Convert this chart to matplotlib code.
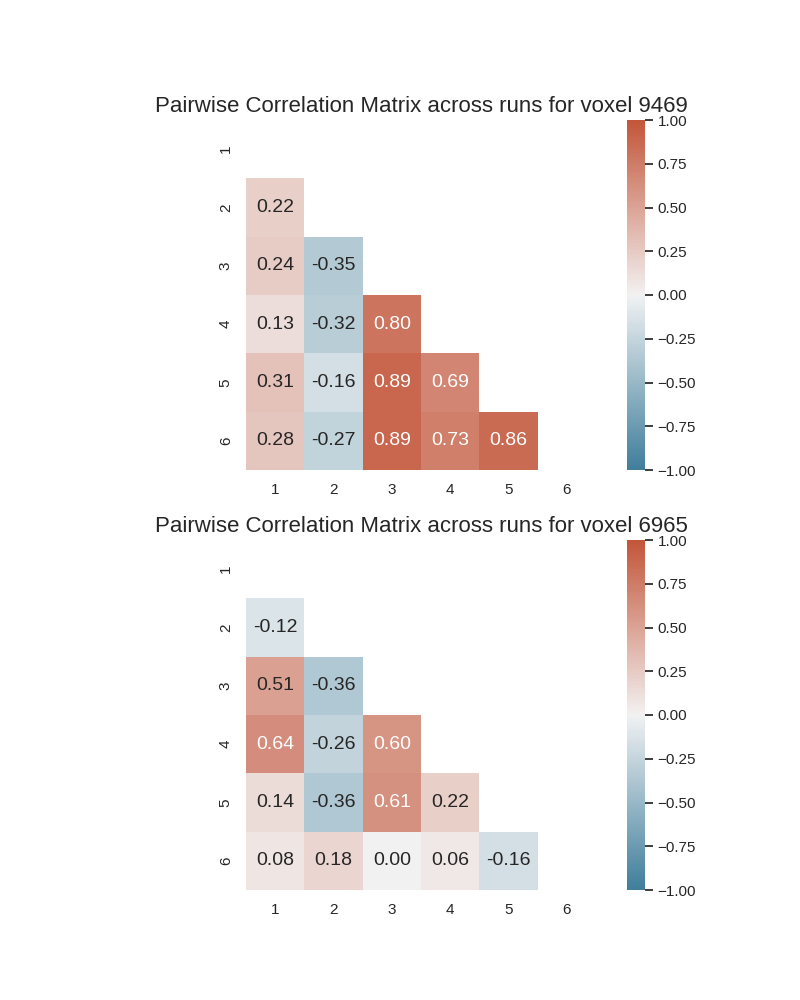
import numpy as np
import matplotlib
matplotlib.use("Agg")
import matplotlib.pyplot as plt
import seaborn as sns

sns.set_theme(style="white")
plt.rcParams['font.family'] = ['Liberation Sans', 'DejaVu Sans']

runs = ["1", "2", "3", "4", "5", "6"]
voxels = [9469, 6965]

# lower triangles (row i, cols 0..i-1)
tri_9469 = [
    [],
    [0.22],
    [0.24, -0.35],
    [0.13, -0.32, 0.80],
    [0.31, -0.16, 0.89, 0.69],
    [0.28, -0.27, 0.89, 0.73, 0.86],
]
tri_6965 = [
    [],
    [-0.12],
    [0.51, -0.36],
    [0.64, -0.26, 0.60],
    [0.14, -0.36, 0.61, 0.22],
    [0.08, 0.18, 0.00, 0.06, -0.16],
]


def full_matrix(tri):
    n = len(tri)
    m = np.eye(n)
    for i, row in enumerate(tri):
        for j, v in enumerate(row):
            m[i, j] = v
            m[j, i] = v
    return m


cmap = sns.diverging_palette(230, 20, as_cmap=True)
fig, axes = plt.subplots(2, 1, figsize=(8, 10))
for ax, vox, tri in zip(axes, voxels, [tri_9469, tri_6965]):
    corr = full_matrix(tri)
    mask = np.triu(np.ones_like(corr, dtype=bool))
    sns.heatmap(corr, mask=mask, cmap=cmap, vmin=-1, vmax=1, center=0,
                annot=True, fmt=".2f", square=True, ax=ax,
                xticklabels=runs, yticklabels=runs,
                annot_kws={"size": 14})
    ax.set_title(f"Pairwise Correlation Matrix across runs for voxel {vox}", fontsize=16)
    ax.tick_params(labelsize=11)
    ax.collections[0].colorbar.ax.tick_params(labelsize=11)

fig.savefig("out.png", dpi=100)
